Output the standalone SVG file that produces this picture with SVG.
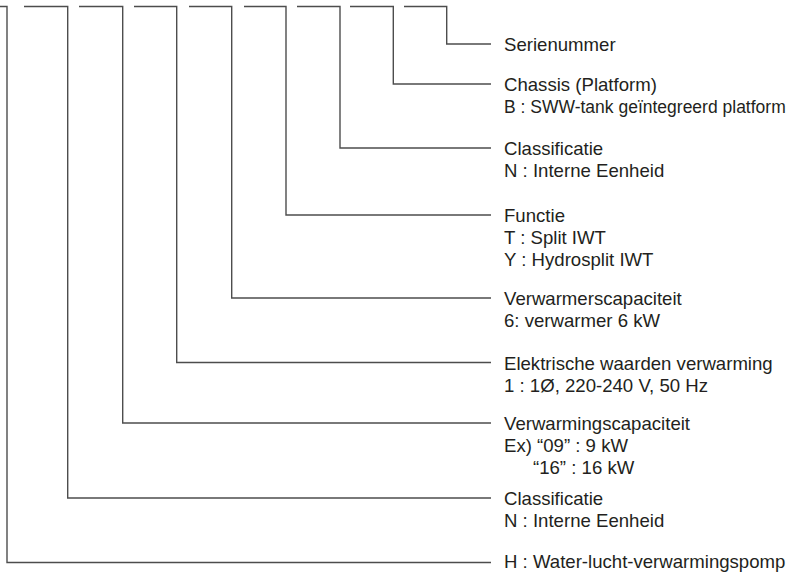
<svg xmlns="http://www.w3.org/2000/svg" width="790" height="572" viewBox="0 0 790 572">
<style>
.c{fill:none;stroke:#4d4d4d;stroke-width:1.4}
text{font-family:"Liberation Sans",Arial,sans-serif;font-size:18.6px;fill:#231f20}
text.s{font-size:17.5px}
</style>
<rect width="790" height="572" fill="#fff"/>
<g id="connectors">
<path class="c" d="M404 6.5H446.7V44H491"/>
<path class="c" d="M350 6.5H393.3V84H491"/>
<path class="c" d="M297 6.5H340V148H491"/>
<path class="c" d="M244 6.5H286V215H491"/>
<path class="c" d="M189 6.5H231.7V298H491"/>
<path class="c" d="M134 6.5H176.7V362.5H491"/>
<path class="c" d="M79 6.5H122.7V423H491"/>
<path class="c" d="M24 6.5H67.7V498H491"/>
<path class="c" d="M0 6.5H7V562.5H491"/>
</g>
<g id="n-serienummer"><text x="504" y="50.6">Serienummer</text></g>
<g id="n-chassis"><text x="504" y="90.6">Chassis (Platform)</text><text class="s" x="504" y="112.6">B : SWW-tank geïntegreerd platform</text></g>
<g id="n-classificatie1"><text x="504" y="154.6">Classificatie<tspan x="504" dy="22">N : Interne Eenheid</tspan></text></g>
<g id="n-functie"><text x="504" y="221.6">Functie<tspan x="504" dy="22">T : Split IWT</tspan><tspan x="504" dy="22">Y : Hydrosplit IWT</tspan></text></g>
<g id="n-verwarmerscapaciteit"><text x="504" y="304.6">Verwarmerscapaciteit<tspan x="504" dy="22">6: verwarmer 6 kW</tspan></text></g>
<g id="n-elektrische"><text x="504" y="369.6">Elektrische waarden verwarming<tspan x="504" dy="22">1 : 1Ø, 220-240 V, 50 Hz</tspan></text></g>
<g id="n-verwarmingscapaciteit"><text x="504" y="429.6">Verwarmingscapaciteit<tspan x="504" dy="22">Ex) “09” : 9 kW</tspan><tspan x="533" dy="22">“16” : 16 kW</tspan></text></g>
<g id="n-classificatie2"><text x="504" y="504.6">Classificatie<tspan x="504" dy="22">N : Interne Eenheid</tspan></text></g>
<g id="n-h"><text x="504" y="567.5">H : Water-lucht-verwarmingspomp</text></g>
</svg>
